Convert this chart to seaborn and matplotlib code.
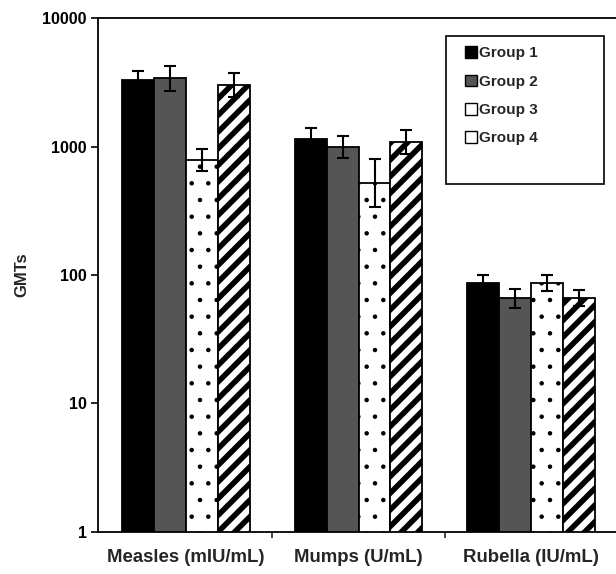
import matplotlib
matplotlib.use("Agg")
import matplotlib.pyplot as plt
import seaborn as sns
import pandas as pd
import numpy as np
from matplotlib.patches import Patch, Rectangle

antigens = ["Measles (mIU/mL)", "Mumps (U/mL)", "Rubella (IU/mL)"]
groups = ["Group 1", "Group 2", "Group 3", "Group 4"]

# GMT per antigen, one list per group
g1 = [3290, 1140, 87]
g2 = [3400, 990, 66]
g3 = [785, 520, 87]
g4 = [3000, 1080, 66]
# top of the error bar per antigen
g1_hi = [3870, 1390, 100]
g2_hi = [4260, 1200, 78]
g3_hi = [955, 800, 100]
g4_hi = [3730, 1340, 76]

vals = [g1, g2, g3, g4]
highs = [g1_hi, g2_hi, g3_hi, g4_hi]

rows = []
for g, v in zip(groups, vals):
    for a, x in zip(antigens, v):
        rows.append({"antigen": a, "group": g, "gmt": x})
df = pd.DataFrame(rows)

sns.set_style("white")
plt.rcParams["font.family"] = ["Liberation Sans", "DejaVu Sans"]
plt.rcParams["hatch.linewidth"] = 4.0

fig = plt.figure(figsize=(6.16, 5.74), dpi=100)
ax = fig.add_axes([0.159, 0.0732, 0.846, 0.8954])

faces = ["#000000", "#555555", "#ffffff", "#ffffff"]
hatches = [None, None, ".", "//"]
sns.barplot(data=df, x="antigen", y="gmt", hue="group", palette=faces,
            errorbar=None, width=0.74, saturation=1, legend=False, ax=ax)
ax.set_yscale("log")
ax.set_ylim(1, 10000)

bar_sets = list(ax.containers)
for i, cont in enumerate(bar_sets):
    for bar, v, hi in zip(cont, vals[i], highs[i]):
        bar.set_edgecolor("black")
        bar.set_linewidth(1.3)
        if hatches[i]:
            bar.set_hatch(hatches[i])
        if i == 2 and hasattr(bar, "set_hatch_linewidth"):
            bar.set_hatch_linewidth(0.8)
        xc = bar.get_x() + bar.get_width() / 2
        lo = v * v / hi
        ax.errorbar(xc, v, yerr=[[v - lo], [hi - v]], color="black",
                    lw=1.5, capsize=4, capthick=1.5, zorder=5)

# axes styling
for s in ax.spines.values():
    s.set_color("black")
    s.set_linewidth(1.3)
ax.minorticks_off()
ax.set_yticks([1, 10, 100, 1000, 10000])
ax.set_yticklabels(["1", "10", "100", "1000", "10000"])
ax.tick_params(axis="y", length=5, width=1.2, pad=3, labelsize=11.5,
               direction="out", left=True, colors="black")
for t in ax.get_yticklabels():
    t.set_fontweight("bold")
ax.set_xticks([0.5, 1.5], minor=True)
ax.tick_params(axis="x", which="minor", length=4, width=1.2, direction="out",
               bottom=True)
ax.tick_params(axis="x", which="major", length=0, pad=12, labelsize=13.4)
for t in ax.get_xticklabels():
    t.set_fontweight("bold")
ax.set_xlabel("")
ax.set_ylabel("GMTs", fontsize=12, fontweight="bold", labelpad=9)

# legend box with empty space below the entries
ax.add_patch(Rectangle((0.668, 0.677), 0.303, 0.288, transform=ax.transAxes,
                       facecolor="white", edgecolor="black", lw=1.2, zorder=6))
handles = [Patch(facecolor=faces[i], edgecolor="black", lw=1) for i in range(4)]
leg = ax.legend(handles, groups, loc="upper left", bbox_to_anchor=(0.677, 0.972),
                frameon=False, handlelength=0.8, handleheight=0.8,
                handletextpad=0.15, labelspacing=0.93,
                prop={"weight": "bold", "size": 11})
leg.set_zorder(7)

fig.savefig("out.png", dpi=100)
